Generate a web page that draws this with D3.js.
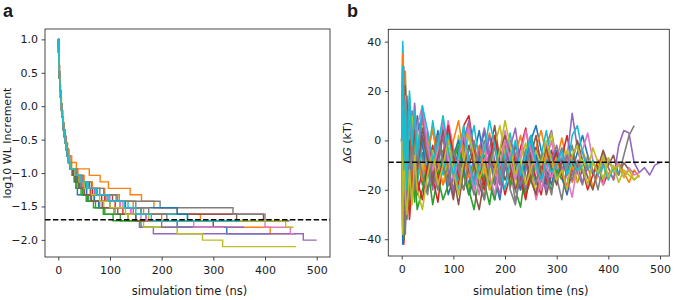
<!doctype html>
<html lang="en">
<head>
<meta charset="UTF-8" />
<title>Wang-Landau convergence</title>
<script src="https://d3js.org/d3.v7.min.js"></script>
<style>
  body { margin: 0; background: #fff; }
  svg text { font-family: 'DejaVu Sans', sans-serif; fill: #1a1a1a; }
  .tick line { stroke: #1a1a1a; stroke-width: 0.8px; }
  .frame { fill: none; stroke: #333; stroke-width: 0.9px; }
  .panel-label { font-family: 'Liberation Sans', Arial, sans-serif; font-weight: bold; font-size: 18px; }
</style>
</head>
<body>
<div id="chart-container"></div>
<script>
// log10 WL increment, one level per stage
var wlLevels = [1.0, 0.9031, 0.8062, 0.7093, 0.6124, 0.5155, 0.4185, 0.3216, 0.2247, 0.1278,
  0.0309, -0.0660, -0.1629, -0.2598, -0.3567, -0.4536, -0.5506, -0.6475, -0.7444, -0.8413,
  -0.9382, -1.0351, -1.1320, -1.2289, -1.3258, -1.4227, -1.5196, -1.6165, -1.7134, -1.8103,
  -1.9072, -2.0041, -2.1010];

// time (ns) at which each walker drops to the next level
var wlDrops = [
  [0.3,0.6,0.9,1.3,1.8,2.3,2.9,3.6,4.4,5.3, 6.3,7.4,8.6,10,11.5,13.2,15,17,19.5,22, 27,31,34,37,56,78,108,150,230,326],
  [0.4,0.8,1.2,1.7,2.2,2.8,3.5,4.3,5.2,6.2, 7.3,8.6,10,11.6,13.5,15.6,18,21,26,35, 60,81,97,139,161,185,230,275,300,410],
  [0.3,0.7,1.1,1.5,2,2.6,3.2,3.9,4.7,5.6, 6.6,7.7,9,10.4,12,13.8,15.8,18,20.5,23.5, 28,33,39,47,58,72,87,106,160],
  [0.3,0.6,1,1.4,1.9,2.4,3,3.7,4.5,5.4, 6.4,7.5,8.7,10,11.4,13,14.8,17,19.5,22.5, 32,40,52,66,84,120,140,397],
  [0.3,0.6,1,1.4,1.9,2.5,3.1,3.8,4.6,5.5, 6.5,7.6,8.9,10.3,11.9,13.7,15.7,18,20.6,23.6, 29,34,41,50,62,80,110,135,157,184,474],
  [0.3,0.7,1.1,1.5,2,2.5,3.1,3.8,4.6,5.5, 6.5,7.7,9,10.5,12.2,14,16,18.5,21,24, 36,46,60,80,105,130,160,345],
  [0.4,0.8,1.2,1.6,2.1,2.7,3.3,4,4.8,5.7, 6.8,8,9.3,10.8,12.5,14.4,16.5,19,22,25, 35,45,58,75,100,125,140,160,400,449],
  [0.3,0.6,1,1.4,1.8,2.3,2.9,3.6,4.4,5.3, 6.3,7.4,8.6,10,11.5,13.2,15.1,17.3,19.8,22.7, 33,42,55,75,95,197,338,400],
  [0.4,0.8,1.2,1.6,2.1,2.6,3.2,3.9,4.7,5.6, 6.6,7.8,9.1,10.6,12.3,14.2,16.3,18.7,21.4,24.5, 30,36,44,54,68,88,110,135,165,230,279,318],
  [0.3,0.6,1,1.4,1.9,2.4,3,3.7,4.5,5.4, 6.4,7.5,8.7,10.1,11.7,13.5,15.5,17.8,20.4,23.4, 34,44,58,80,115,135,160,250],
  [0.3,0.7,1.1,1.5,2,2.6,3.2,3.9,4.7,5.6, 6.6,7.7,9,10.4,12,13.8,15.8,18.2,20.8,23.8, 30,36,44,55,70,100,230,250,300],
  [0.4,0.8,1.2,1.6,2.1,2.7,3.3,4,4.8,5.8, 6.8,8,9.4,11,12.8,14.8,17,19.6,22.5,26, 38,50,66,90,118,145,165,200],
  [0.3,0.6,1,1.4,1.8,2.3,2.9,3.6,4.4,5.3, 6.3,7.4,8.6,10,11.5,13.2,15.1,17.3,19.8,22.7, 27,31,36,44,54,68,90,120],
  [0.3,0.7,1.1,1.5,2,2.5,3.1,3.8,4.6,5.5, 6.5,7.6,8.9,10.3,11.9,13.7,15.7,18,20.6,23.6, 31,38,48,62,90,110,125,170],
  [0.4,0.8,1.2,1.7,2.2,2.8,3.4,4.1,4.9,5.8, 6.9,8.1,9.5,11,12.7,14.6,16.8,19.2,22,25, 34,42,54,70,92,120,145,170,200],
  [0.3,0.6,1,1.4,1.9,2.4,3,3.7,4.5,5.4, 6.4,7.5,8.8,10.2,11.8,13.6,15.6,17.9,20.5,23.5, 28,33,40,50,64,85,115,150],
  [0.3,0.7,1.1,1.5,2,2.5,3.1,3.8,4.6,5.5, 6.5,7.6,8.9,10.3,11.9,13.7,15.7,18,20.6,23.6, 33,42,56,72,96,120,140,170,262],
  [0.4,0.8,1.2,1.6,2.1,2.6,3.2,3.9,4.7,5.6, 6.6,7.8,9.1,10.6,12.3,14.2,16.3,18.7,21.4,24.5, 36,48,64,88,112,150,175,210],
  [0.3,0.6,1,1.4,1.9,2.5,3.1,3.8,4.6,5.5, 6.5,7.6,8.9,10.4,12,13.8,15.8,18.2,20.8,23.8, 32,40,50,64,80,100,130,175,440],
  [0.3,0.6,1,1.4,1.8,2.3,2.9,3.6,4.4,5.3, 6.3,7.4,8.6,10,11.5,13.2,15.1,17.3,19.8,22.7, 33,42,55,74,98,128,150,180]
];
// last time of each walker (ns)
var wlEnd = [410, 460, 268, 402, 500, 445, 456, 448, 460, 415, 320, 340, 310, 330, 360, 340, 320, 360, 455, 350];

// sampling times for the free energy traces (ns)
var dgTimes = [0,2,4,7,10,15,20,25,30,40,50,60,70,80,90,100,110,120,130,140,150,160,170,180,190,200,
  210,220,230,240,250,260,270,280,290,300,310,320,330,340,350,360,370,380,390,400,410,420,430,440,450,
  460,470,480,490,500];

// Delta G (kT) of each walker at dgTimes
var dgValues = [
  [0,32,-40,15,-22,10,-18,6,-14, -5,-20,-12,2,-8,-22,-15,-3,-10,-18,-6,4,-9,-16,-24,-12,-2,-8,-14,-20,-10,0,6,-4,-12,-18,-8,-15,-22,-12,-5,2,-6,-14,-10,-16,-8,-12],
  [0,38,-30,20,-10,14,-6,10,-2, 8,-4,-14,-6,5,-10,-20,-12,-2,6,-8,-16,-4,3,-11,-18,-9,0,-7,-15,-21,-10,-3,4,-6,-13,-8,1,-9,-17,-12,-4,-10,-19,-14,-7,-11,-16,-9,-13,-17,-12,-15],
  [0,-20,25,-35,-8,-28,-12,-25,-6, -18,-10,-26,-14,-4,-16,-22,-8,-12,-20,-28,-15,-6,-18,-24,-10,-2,-14,-20,-27,-12,-5,-16,-11],
  [0,15,-42,-30,-12,-32,-18,-8,-22, -12,0,-15,-25,-8,4,-10,-18,6,10,-4,-14,-20,-9,2,-12,-6,-19,-11,-3,5,-8,-16,-22,-10,-4,-13,-7,2,-9,-17,-12,-20,-14,-8,-18,-13],
  [0,-35,20,-15,15,-5,12,-18,3, 10,-8,-20,-4,6,-12,-22,-14,0,8,-6,-16,-10,2,-8,-18,-12,-3,5,-10,-20,-14,-6,-12,-2,4,-9,-15,-7,11,-3,-12,-18,-8,-14,-5,-11,-16,-2,4,3,-9,-13,-11,-14,-10,-9],
  [0,25,-25,8,-15,5,-20,-5,-10, 5,-6,-18,-10,2,-14,-24,-8,0,-12,-20,-28,-15,-4,6,-8,-16,-10,-2,-12,-18,-6,2,-10,-22,-14,-5,-12,-19,-9,0,-8,-15,-20,-11,-4,-10,-6,-14,-9,-12,-13],
  [0,10,-38,5,-25,12,-8,14,-4, -15,4,-8,-20,-6,8,-3,-16,-10,5,-12,-22,-8,-2,-18,-10,4,-6,-20,-14,-5,-11,-24,-16,-8,0,-12,-6,-15,-23,-10,-4,3,-8,-14,-18,-7,-12,-9,-15,-11,-14,-13],
  [0,-15,30,-10,10,-14,6,-4,-16, -8,3,-12,-20,-5,4,-10,-16,-2,-14,-22,-9,0,-7,-18,-12,-3,-10,-25,-14,-4,2,-8,-20,-12,-6,-15,-24,-10,-2,-13,-18,-6,-12,-20,-9,-15,-11,-14,-6,2,6],
  [0,-28,18,-33,5,-20,10,-10,4, -12,-3,6,-9,-18,-6,-12,2,-8,-20,-14,-4,-10,-16,-2,6,-6,-13,-19,-8,-1,-12,-21,-14,-6,3,-9,-15,-4,-11,-17,-8,-12,-3,-9,-16,-7,-13,-10,-15,-12,-16,-14],
  [0,40,-22,25,-5,18,-10,12,-18, 0,-10,8,-6,-14,2,-9,-20,-12,-4,6,-8,-18,-11,-2,-14,-6,3,-10,-17,-8,0,-12,-6,4,-9,-15,-7,-13,2,6,-5,-12,-8,-14,-10,-16,-11,-13],
  [0,-42,28,-25,18,-18,4,-12,10, -2,-14,-8,4,-10,-18,-6,0,-12,-22,-16,-6,4,-8,-15,-24,-10,-3,-12,-20,-8,2,-6,-14,-18,-9,-4,-12,-10],
  [0,35,-15,28,-18,2,-14,-20,-8, -16,-4,4,-8,-18,-12,0,8,-6,-15,-10,-2,-12,-20,-14,-4,-10,-18,-6,2,-9,-16,-22,-12,-5,-11,-8,-14,-6,-12,-9],
  [0,5,-40,-20,-32,-10,-24,-14,-28, -20,-12,-4,-15,-24,-18,-8,-2,-14,-22,-10,-6,-17,-26,-12,-4,-10,-18,-8,-14,-22,-16,-9,-13,-15,-20,-12,-16],
  [0,20,-32,10,-28,0,-20,-6,-16, -24,-10,-2,-16,-8,6,-6,-14,-20,-10,-4,-12,-18,-8,2,-11,-22,-14,-6,-16,-24,-12,-3,-9,-17,-10,-5,-14,-20,-12],
  [0,-25,14,-38,0,-24,-8,15,-10, 12,-4,-16,-8,3,-12,-20,-6,2,-10,-16,-4,5,-8,-14,-22,-10,0,-6,-18,-12,-2,-9,-16,-20,-8,-2,-12,-6,-14,-10,-17,-11],
  [0,12,-28,22,-12,14,-4,4,-12, 2,-8,-16,-6,4,-4,-14,-26,-12,-2,-10,-18,-24,-6,-12,-4,2,-10,-20,-14,-8,-16,-22,-10,-3,-12,-18,-8,-14,-6,-11],
  [0,28,-20,18,-14,16,-2,-14,6, 14,-2,-12,-4,8,-6,-16,-8,4,-10,-20,-12,-2,-14,-22,-10,0,-8,-16,-6,4,-4,-12,-20,-10,-15,-9,-4,-12],
  [0,-8,22,-28,12,-16,2,-20,-4, -14,-22,-6,2,-10,-18,-4,-12,-20,-8,0,-14,-24,-10,-2,-16,-8,-20,-26,-12,-4,-10,-18,-6,-14,-22,-9,-3,-12,-16,-8,-13,-10],
  [0,-38,8,-22,-30,-12,-26,-6,-20, -28,-14,-4,-18,-10,0,-12,-22,-8,2,-6,-16,-10,-20,-12,-4,8,-2,-14,-8,-18,-12,-4,-10,0,-8,-16,-12,-20,-6,-2,-11,-18,-9,-13,-6,-15,-10,-17,-12,-14,-16,-14],
  [0,30,-12,16,-20,20,-2,12,-6, 14,4,-8,-2,10,-4,-14,-6,6,-8,-18,-10,-4,8,-2,-12,-20,-8,0,-14,-6,2,-10,-16,-8,-13,-10,-4,-14,-8,-12,-10]
];

var xTicks = [0, 100, 200, 300, 400, 500];
var wlTicks = [1.0, 0.5, 0.0, -0.5, -1.0, -1.5, -2.0];
var dgTicks = [40, 20, 0, -20, -40];
var wlTarget = -1.7;
var dgReference = -8.8;

var canvasWidth = 675;
var canvasHeight = 300;
var colors = d3.schemeCategory10;

var svg = d3.select('#chart-container')
  .append('svg')
  .attr('width', canvasWidth)
  .attr('height', canvasHeight);

function drawPanel(opt) {
  var x = d3.scaleLinear().domain(opt.xDomain).range([opt.left, opt.right]);
  var y = d3.scaleLinear().domain(opt.yDomain).range([opt.bottom, opt.top]);

  svg.append('clipPath').attr('id', opt.id + '-clip')
    .append('rect')
    .attr('x', opt.left).attr('y', opt.top)
    .attr('width', opt.right - opt.left).attr('height', opt.bottom - opt.top);

  var plot = svg.append('g').attr('clip-path', 'url(#' + opt.id + '-clip)');
  opt.drawLines(plot, x, y);

  // dashed reference line
  plot.append('line')
    .attr('x1', opt.left).attr('x2', opt.right)
    .attr('y1', y(opt.refValue)).attr('y2', y(opt.refValue))
    .attr('stroke', '#000')
    .attr('stroke-width', 1.5)
    .attr('stroke-dasharray', '5.5,2.4');

  var xAxis = svg.append('g')
    .attr('transform', 'translate(0,' + opt.bottom + ')')
    .call(d3.axisBottom(x).tickValues(xTicks).tickSize(3.5).tickPadding(6).tickFormat(d3.format('d')));
  xAxis.select('.domain').remove();
  xAxis.selectAll('text').attr('font-size', '11px');

  var yAxis = svg.append('g')
    .attr('transform', 'translate(' + opt.left + ',0)')
    .call(d3.axisLeft(y).tickValues(opt.yTicks).tickSize(3.5).tickPadding(3.5).tickFormat(opt.yFormat));
  yAxis.select('.domain').remove();
  yAxis.selectAll('text').attr('font-size', '11px');

  svg.append('rect').attr('class', 'frame')
    .attr('x', opt.left).attr('y', opt.top)
    .attr('width', opt.right - opt.left).attr('height', opt.bottom - opt.top);

  svg.append('text')
    .attr('x', (opt.left + opt.right) / 2 + 2)
    .attr('y', 295)
    .attr('text-anchor', 'middle')
    .attr('font-size', '11.5px')
    .text('simulation time (ns)');

  var yl = svg.append('text')
    .attr('transform', 'translate(' + opt.yLabelX + ',' + (opt.top + opt.bottom) / 2 + ') rotate(-90)')
    .attr('text-anchor', 'middle')
    .attr('font-size', '11px');
  opt.yLabel(yl);

  svg.append('text').attr('class', 'panel-label')
    .attr('x', opt.labelX).attr('y', 17)
    .text(opt.letter);
}

// panel a: WL increment staircases
drawPanel({
  id: 'a', letter: 'a', labelX: 3,
  left: 45, right: 330, top: 29, bottom: 257,
  xDomain: [-25.7, 525.7], yDomain: [-2.256, 1.155],
  yTicks: wlTicks, yFormat: d3.format('.1f'), refValue: wlTarget,
  yLabelX: 10.5,
  yLabel: function (t) { t.text('log10 WL Increment'); },
  drawLines: function (g, x, y) {
    var line = d3.line().curve(d3.curveStepAfter)
      .x(function (d) { return x(d[0]); })
      .y(function (d) { return y(d[1]); });
    wlDrops.forEach(function (drops, i) {
      var pts = [[0, wlLevels[0]]];
      drops.forEach(function (t, k) { pts.push([t, wlLevels[k + 1]]); });
      pts.push([wlEnd[i], wlLevels[drops.length]]);
      g.append('path')
        .attr('d', line(pts))
        .attr('fill', 'none')
        .attr('stroke', colors[i % 10])
        .attr('stroke-width', 1.4);
    });
  }
});

// panel b: free energy traces
drawPanel({
  id: 'b', letter: 'b', labelX: 347,
  left: 388.3, right: 669.3, top: 29.3, bottom: 256,
  xDomain: [-26, 518], yDomain: [-46.8, 45],
  yTicks: dgTicks, yFormat: d3.format('d'), refValue: dgReference,
  yLabelX: 351,
  yLabel: function (t) {
    t.append('tspan').text('Δ');
    t.append('tspan').attr('font-style', 'italic').text('G');
    t.append('tspan').text(' (kT)');
  },
  drawLines: function (g, x, y) {
    var line = d3.line()
      .x(function (d, j) { return x(dgTimes[j]); })
      .y(function (d) { return y(d); });
    dgValues.forEach(function (vals, i) {
      g.append('path')
        .attr('d', line(vals))
        .attr('fill', 'none')
        .attr('stroke', colors[i % 10])
        .attr('stroke-width', 1.6)
        .attr('stroke-linejoin', 'round');
    });
  }
});
</script>
</body>
</html>
